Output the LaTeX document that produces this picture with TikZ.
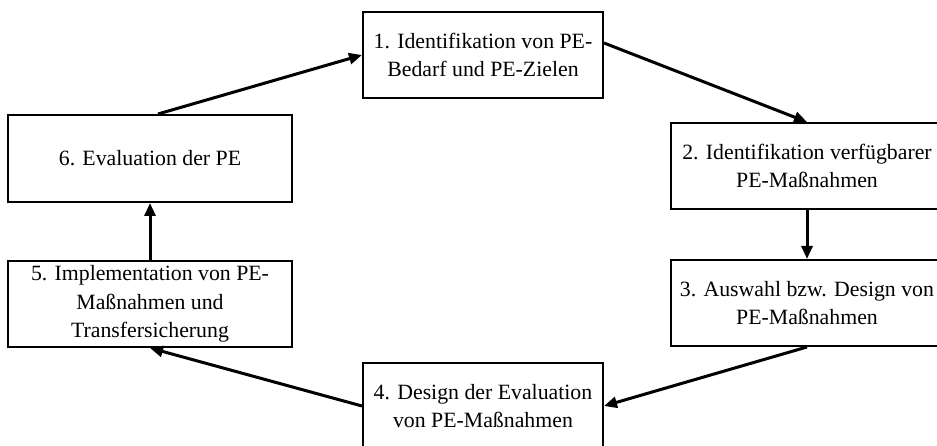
\documentclass[tikz,border=0pt]{standalone}
\usepackage{fontspec}
\setmainfont{Liberation Serif}
\usetikzlibrary{arrows.meta}
\begin{document}
\begin{tikzpicture}[x=1pt,y=-1pt,
  stepbox/.style={draw=black,line width=2pt,fill=white,align=center,inner sep=1pt,
    font=\fontsize{21.8}{28.5}\selectfont,minimum height=86pt},
  flow/.style={line width=3pt,-{Triangle[length=13pt,width=11pt]}}]
\useasboundingbox (0,0) rectangle (937,446);
\node[stepbox,minimum width=240pt] (b1) at (483,55) {1. Identifikation von PE-\\Bedarf und PE-Zielen};
\node[stepbox,minimum width=272pt] (b2) at (807,166) {2. Identifikation verfügbarer\\PE-Maßnahmen};
\node[stepbox,minimum width=272pt] (b3) at (807,303) {3. Auswahl bzw. Design von\\PE-Maßnahmen};
\node[stepbox,minimum width=240pt] (b4) at (483,406) {4. Design der Evaluation\\von PE-Maßnahmen};
\node[stepbox,minimum width=284pt] (b5) at (150,304) {5. Implementation von PE-\\Maßnahmen und\\Transfersicherung};
\node[stepbox,minimum width=284pt,minimum height=87pt] (b6) at (150,158.5) {6. Evaluation der PE};
\draw[flow] ([xshift=8pt]b6.north) -- (b1.west);
\draw[flow] ([yshift=12pt]b1.east) -- (b2.north);
\draw[flow] (b2.south) -- (b3.north);
\draw[flow] (b3.south) -- (b4.east);
\draw[flow] (b4.west) -- (b5.south);
\draw[flow] (b5.north) -- (b6.south);
\end{tikzpicture}
\end{document}
